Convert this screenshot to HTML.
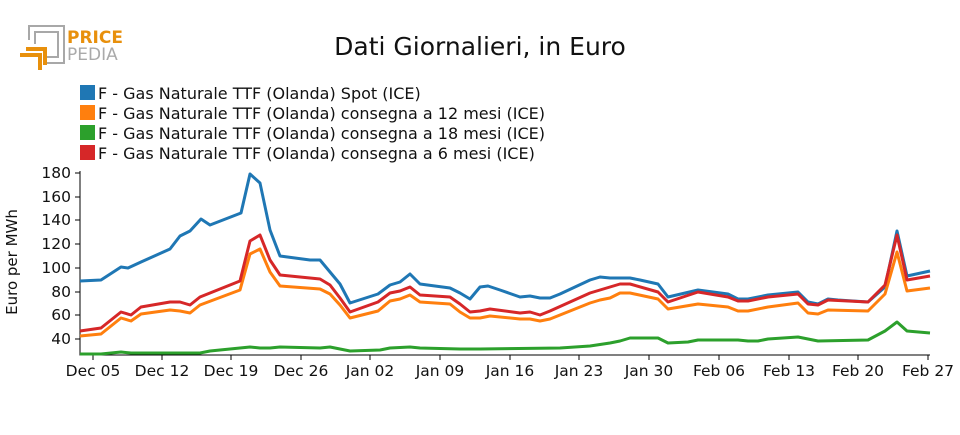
<!DOCTYPE html>
<html><head><meta charset="utf-8"><style>
body{margin:0;background:#fff;width:960px;height:430px;overflow:hidden}
text{font-family:"DejaVu Sans","Liberation Sans",sans-serif;fill:#111}
</style></head><body>
<svg width="960" height="430" viewBox="0 0 960 430">
<g fill="none" stroke="#a8a8a8" stroke-width="2">
<polyline points="29,40 29,26 64,26 64,63 47,63"/>
<polyline points="35,44 35,32 58,32 58,57 47,57"/>
</g>
<g fill="none" stroke="#e8900c" stroke-width="4">
<polyline points="20,55 40,55 40,70"/>
<polyline points="26,49 45,49 45,65"/>
</g>
<text x="67" y="43" font-size="17" font-weight="bold" style="fill:#e8900c">PRICE</text>
<text x="67" y="60" font-size="17" style="fill:#aaa">PEDIA</text>
<text x="480" y="55" font-size="25" text-anchor="middle">Dati Giornalieri, in Euro</text>
<rect x="80" y="85" width="15" height="15" fill="#1f77b4"/>
<rect x="80" y="105" width="15" height="15" fill="#ff7f0e"/>
<rect x="80" y="125" width="15" height="15" fill="#2ca02c"/>
<rect x="80" y="145" width="15" height="15" fill="#d62728"/>
<g font-size="16">
<text x="98" y="99">F - Gas Naturale TTF (Olanda) Spot (ICE)</text>
<text x="98" y="119">F - Gas Naturale TTF (Olanda) consegna a 12 mesi (ICE)</text>
<text x="98" y="139">F - Gas Naturale TTF (Olanda) consegna a 18 mesi (ICE)</text>
<text x="98" y="159">F - Gas Naturale TTF (Olanda) consegna a 6 mesi (ICE)</text>
</g>
<g stroke="#000" stroke-width="1" fill="none">
<polyline points="80,171 80,355 930,355"/>
<path d="M75,173H80M75,197H80M75,220H80M75,244H80M75,268H80M75,292H80M75,315H80M75,339H80"/>
<path d="M93,355V360M162,355V360M231,355V360M301,355V360M370,355V360M440,355V360M510,355V360M579,355V360M649,355V360M719,355V360M789,355V360M858,355V360M928,355V360"/>
</g>
<g font-size="15.5" text-anchor="end">
<text x="71" y="178">180</text><text x="71" y="202">160</text><text x="71" y="225">140</text><text x="71" y="249">120</text><text x="71" y="273">100</text><text x="71" y="297">80</text><text x="71" y="320">60</text><text x="71" y="344">40</text>
</g>
<g font-size="15.5" text-anchor="middle">
<text x="93" y="376">Dec 05</text><text x="162" y="376">Dec 12</text><text x="231" y="376">Dec 19</text><text x="301" y="376">Dec 26</text><text x="370" y="376">Jan 02</text><text x="440" y="376">Jan 09</text><text x="510" y="376">Jan 16</text><text x="579" y="376">Jan 23</text><text x="649" y="376">Jan 30</text><text x="719" y="376">Feb 06</text><text x="789" y="376">Feb 13</text><text x="858" y="376">Feb 20</text><text x="928" y="376">Feb 27</text>
</g>
<text transform="translate(17,262) rotate(-90)" font-size="15" text-anchor="middle">Euro per MWh</text>
<g fill="none" stroke-width="3" stroke-linejoin="round">
<polyline stroke="#1f77b4" points="80,281 101,280 121,267 128,268 141,262 170,249 180,236 190,231 201,219 210,225 241,213 250,174 260,183 270,230 280,256 310,260 320,260 330,272 340,284 350,303 378,294 390,285 400,282 410,274 420,284 450,288 460,293 470,299 480,287 488,286 500,290 520,297 530,296 540,298 550,298 560,294 590,280 600,277 610,278 620,278 630,278 640,280 658,284 668,297 698,290 728,294 738,299 748,299 768,295 798,292 808,302 818,304 828,299 838,300 868,302 885,287 897,231 907,276 930,271"/>
<polyline stroke="#ff7f0e" points="80,336 101,334 121,318 131,321 141,314 170,310 180,311 190,313 200,305 240,290 250,254 260,249 270,272 280,286 320,289 330,294 340,305 350,318 378,311 390,301 400,299 410,295 420,302 450,304 460,312 470,318 480,318 490,316 520,319 530,319 540,321 550,319 590,303 600,300 610,298 620,293 630,293 658,299 668,309 698,304 728,307 738,311 748,311 768,307 798,303 808,313 818,314 828,310 868,311 885,294 897,252 907,291 930,288"/>
<polyline stroke="#2ca02c" points="80,354 101,354 121,352 131,353 200,353 210,351 240,348 250,347 260,348 270,348 280,347 320,348 330,347 350,351 380,350 390,348 410,347 420,348 460,349 480,349 560,348 590,346 610,343 620,341 630,338 658,338 668,343 688,342 698,340 738,340 748,341 758,341 768,339 798,337 818,341 868,340 885,331 897,322 907,331 930,333"/>
<polyline stroke="#d62728" points="80,331 101,328 121,312 131,315 141,307 170,302 180,302 190,305 200,297 240,281 250,241 260,235 270,260 280,275 320,279 330,285 340,298 350,312 378,302 390,293 400,291 410,287 420,295 450,297 460,304 470,312 480,311 490,309 520,313 530,312 540,315 550,311 590,293 600,290 610,287 620,284 630,284 658,292 668,302 698,292 728,297 738,301 748,301 768,297 798,294 808,304 818,305 828,300 868,302 885,285 897,235 907,280 930,276"/>
</g>
</svg>
</body></html>
